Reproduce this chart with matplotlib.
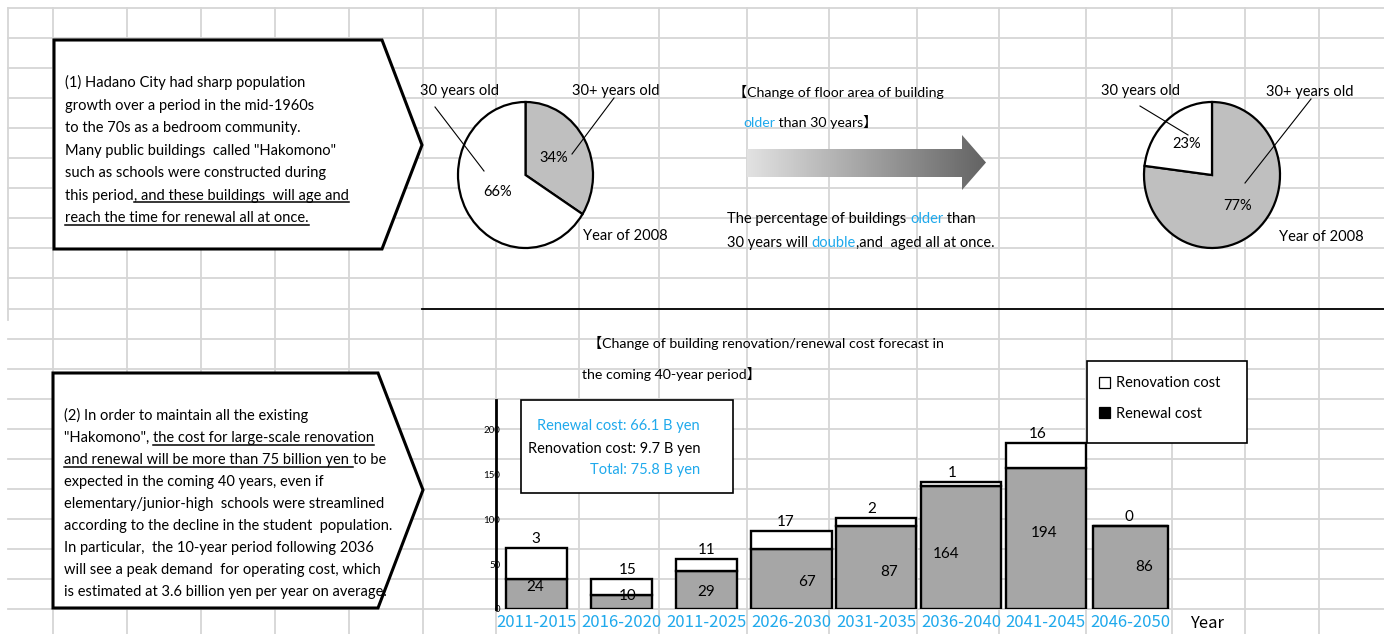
import numpy as np
import matplotlib
matplotlib.use('Agg')
import matplotlib.pyplot as plt
from matplotlib.patches import Polygon, Rectangle
from matplotlib.colors import LinearSegmentedColormap

plt.rcParams['font.family'] = ['Lato', 'Noto Sans CJK JP', 'DejaVu Sans']

W, H = 1384, 634
BLUE = '#1fa9ec'
GRID = '#d6d6d6'
BODY = 10.5

# share of floor area by building age (%)
share_now = [34, 66]      # 30+ years old, 30 years old
share_later = [77, 23]

# renovation / renewal cost forecast (100 M yen)
periods = ['2011-2015', '2016-2020', '2011-2025', '2026-2030',
           '2031-2035', '2036-2040', '2041-2045', '2046-2050']
renewal_cost = [24, 10, 29, 67, 87, 164, 194, 86]
renovation_cost = [3, 15, 11, 17, 2, 1, 16, 0]
# bar heights as they are drawn in the original (not to scale with labels)
renewal_bar = [34, 16, 43, 67, 93, 137, 157, 93]
renovation_bar = [34, 18, 13, 20, 9, 5, 28, 0]
yticks = [0, 50, 100, 150, 200]

fig = plt.figure(figsize=(W / 100, H / 100), dpi=100)


def px(x0, y0, x1, y1):
    """pixel box -> figure fraction rect"""
    return [x0 / W, 1 - y1 / H, (x1 - x0) / W, (y1 - y0) / H]


bg = fig.add_axes([0, 0, 1, 1])
bg.axis('off')

# spreadsheet grid
cols = [53, 127, 201, 275, 349, 423, 496, 579, 659, 747, 829, 917,
        999, 1086, 1172, 1245, 1319]
for x in cols:
    bg.plot([x, x], [8, H], color=GRID, lw=1.3, zorder=0)
bg.plot([8, 8], [8, 320], color=GRID, lw=1.3, zorder=0)
for y in 8 + 30.05 * np.arange(21):
    bg.plot([8, W], [y, y], color=GRID, lw=1.3, zorder=0)
bg.plot([422, W], [309, 309], color='black', lw=1.3, zorder=1)

# callout boxes
bg.add_patch(Polygon([(54, 40), (382, 40), (422, 145), (382, 249), (54, 249)],
                     closed=True, fc='white', ec='black', lw=2.2, zorder=2))
bg.add_patch(Polygon([(53, 373), (378, 373), (423, 490), (378, 608), (53, 608)],
                     closed=True, fc='white', ec='black', lw=2.2, zorder=2))

renderer = fig.canvas.get_renderer()


def text_w(s, size):
    if not s:
        return 0.0
    t1 = bg.text(0, 0, s + '|', fontsize=size)
    t2 = bg.text(0, 0, '|', fontsize=size)
    w = t1.get_window_extent(renderer).width - t2.get_window_extent(renderer).width
    t1.remove()
    t2.remove()
    return w


def runs(x, y, parts, size=BODY, ha='left'):
    """draw a line made of (text, colour, underline) parts"""
    full = ''.join(p[0] for p in parts)
    if ha == 'right':
        x = x - text_w(full, size)
    prefix = ''
    for s, c, ul in parts:
        x0 = x + text_w(prefix, size)
        bg.text(x0, y, s, color=c, fontsize=size, va='baseline', ha='left', zorder=5)
        if ul:
            x1 = x + text_w(prefix + s, size)
            bg.plot([x0, x1], [y + 2.5, y + 2.5], color=c, lw=1.1, zorder=5)
        prefix += s


K = 'black'
box1 = [
    [('(1) Hadano City had sharp population', K, False)],
    [('growth over a period in the mid-1960s', K, False)],
    [('to the 70s as a bedroom community.', K, False)],
    [('Many public buildings  called "Hakomono"', K, False)],
    [('such as schools were constructed during', K, False)],
    [('this period', K, False), (', and these buildings  will age and', K, True)],
    [('reach the time for renewal all at once.', K, True)],
]
for i, line in enumerate(box1):
    runs(65, 87 + 22.55 * i, line)

box2 = [
    [('(2) In order to maintain all the existing', K, False)],
    [('"Hakomono", ', K, False), ('the cost for large-scale renovation', K, True)],
    [('and renewal will be more than 75 billion yen ', K, True), ('to be', K, False)],
    [('expected in the coming 40 years, even if', K, False)],
    [('elementary/junior-high  schools were streamlined', K, False)],
    [('according to the decline in the student  population.', K, False)],
    [('In particular,  the 10-year period following 2036', K, False)],
    [('will see a peak demand  for operating cost, which', K, False)],
    [('is estimated at 3.6 billion yen per year on average.', K, False)],
]
for i, line in enumerate(box2):
    runs(64, 420 + 22.0 * i, line)

# middle captions
runs(733, 97, [('【Change of floor area of building', K, False)], size=10.2)
runs(743, 127, [('older', BLUE, False), (' than 30 years】', K, False)], size=10.2)
runs(727, 223, [('The percentage of buildings ', K, False), ('older', BLUE, False),
                (' than', K, False)])
runs(727, 247, [('30 years will ', K, False), ('double', BLUE, False),
                (',and  aged all at once.', K, False)])

# gradient arrow
grad = np.linspace(0, 1, 256).reshape(1, -1)
cmap = LinearSegmentedColormap.from_list('arrow', ['#e2e2e2', '#636363'])
im = bg.imshow(grad, cmap=cmap, extent=(747, 986, 190, 135), aspect='auto', zorder=2)
arrow = Polygon([(747, 149), (962, 149), (962, 135), (986, 162.5), (962, 190),
                 (962, 177), (747, 177)], closed=True, fc='none', ec='none',
                transform=bg.transData)
bg.add_patch(arrow)
im.set_clip_path(arrow)

# pie captions
runs(420, 95, [('30 years old', K, False)])
runs(572, 95, [('30+ years old', K, False)])
runs(583, 240, [('Year of 2008', K, False)])
runs(1101, 95, [('30 years old', K, False)])
runs(1266, 96, [('30+ years old', K, False)])
runs(1279, 241, [('Year of 2008', K, False)])

# bottom chart titles and boxes
runs(588, 348, [('【Change of building renovation/renewal cost forecast in', K, False)],
     size=10.2)
runs(582, 379, [('the coming 40-year period】', K, False)], size=10.2)

bg.add_patch(Rectangle((521, 400), 212, 93, fc='white', ec='black', lw=1.2, zorder=2))
runs(700, 430, [('Renewal cost: 66.1 B yen', BLUE, False)], ha='right')
runs(700, 453, [('Renovation cost: 9.7 B yen', K, False)], ha='right')
runs(700, 474, [('Total: 75.8 B yen', BLUE, False)], ha='right')

bg.add_patch(Rectangle((1087, 361), 160, 82, fc='white', ec='black', lw=1.2, zorder=2))
bg.add_patch(Rectangle((1098.5, 377), 11, 11, fc='white', ec='black', lw=0.9, zorder=3))
bg.add_patch(Rectangle((1098.5, 407), 11, 11, fc='black', ec='black', lw=0.9, zorder=3))
runs(1116, 387, [('Renovation cost', K, False)])
runs(1116, 418, [('Renewal cost', K, False)])

bg.text(1207, 624, 'Year', fontsize=12, ha='center', va='center',
        family=['Noto Sans CJK JP', 'DejaVu Sans'])

bg.set_xlim(0, W)
bg.set_ylim(H, 0)

# pies
for share, colors, cx, cy, rx, ry, pd in [
        (share_now, ['#bfbfbf', 'white'], 525.5, 175, 67.5, 73, 0.48),
        (share_later, ['#bfbfbf', 'white'], 1212, 175, 68, 73, 0.57)]:
    pa = fig.add_axes(px(cx - rx * 1.03, cy - ry * 1.03, cx + rx * 1.03, cy + ry * 1.03))
    pa.pie(share, colors=colors, startangle=90, counterclock=False,
           wedgeprops=dict(edgecolor='black', linewidth=1.6),
           autopct='%.0f%%', pctdistance=pd, textprops=dict(fontsize=BODY))
    pa.set_aspect('auto')
    pa.set_xlim(-1.03, 1.03)
    pa.set_ylim(-1.03, 1.03)
    pa.patch.set_visible(False)

# stacked bar chart
ax = fig.add_axes(px(496, 400, 1250, 609))
ax.patch.set_visible(False)
x = np.arange(len(periods))
widths = [0.72, 0.72, 0.72, 0.95, 0.95, 0.95, 0.95, 0.89]
ax.bar(x, renewal_bar, width=widths, color='#a6a6a6', edgecolor='black', lw=1.7)
tops = np.array(renewal_bar) + np.array(renovation_bar)
ax.bar(x, renovation_bar, bottom=renewal_bar, width=widths, color='white',
       edgecolor='black', lw=1.7)

inner_dx = [-1, 4, 0, 11, 9, -11, -1, 10]
inner_dy = [6, 5, 0, 0, 0, 0, 9, 3]
top_dx = [-1, 4, 0, -4, -3, -6, -6, -1]
for i in range(len(periods)):
    ax.annotate(str(renewal_cost[i]), (x[i], renewal_bar[i] * 0.45),
                xytext=(inner_dx[i], inner_dy[i]), textcoords='offset points',
                ha='center', va='center', fontsize=11)
    ax.annotate(str(renovation_cost[i]), (x[i], tops[i]),
                xytext=(top_dx[i], 6.5), textcoords='offset points',
                ha='center', va='center', fontsize=11)

ax.set_xlim(-0.482, 8.407)
ax.set_ylim(0, 233.5)
for s in ['top', 'right', 'bottom']:
    ax.spines[s].set_visible(False)
ax.spines['left'].set_linewidth(2)
ax.set_yticks(yticks)
ax.tick_params(axis='y', length=0, pad=-3, labelsize=7)
ax.set_xticks(x)
ax.set_xticklabels(periods, color=BLUE, fontsize=12,
                   family=['Noto Sans CJK JP', 'DejaVu Sans'])
ax.tick_params(axis='x', length=0, pad=3.5)

# leader lines on top
fg = fig.add_axes([0, 0, 1, 1])
fg.axis('off')
fg.set_xlim(0, W)
fg.set_ylim(H, 0)
for (x0, y0), (x1, y1) in [((435, 107), (484, 171)), ((614, 98), (572, 154)),
                           ((1140, 106), (1188, 135)), ((1311, 99), (1245, 183))]:
    fg.plot([x0, x1], [y0, y1], color='black', lw=0.8)

fig.savefig('out.png', dpi=100)
